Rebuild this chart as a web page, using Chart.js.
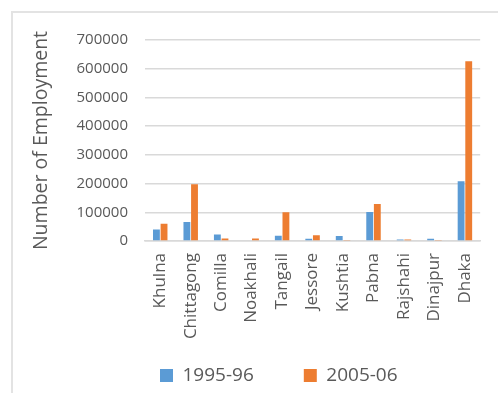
<!DOCTYPE html>
<html>
<head>
<meta charset="utf-8">
<script src="https://cdn.jsdelivr.net/npm/chart.js@4.4.0/dist/chart.umd.min.js"></script>
<style>
  html, body { margin: 0; padding: 0; background: #fff; }
  #wrap { position: relative; width: 498px; height: 393px; overflow: hidden; }
  #cadre { position: absolute; left: 11px; top: 11px; width: 600px; height: 600px; border: 2px solid #e3e3e3; }
  #graph { position: absolute; left: 0; top: 0; }
</style>
</head>
<body>
<div id="wrap">
  <div id="cadre"></div>
  <canvas id="graph" width="498" height="393"></canvas>
</div>
<script>
// ===== DONNÉES =====
const districts = ["Khulna", "Chittagong", "Comilla", "Noakhali", "Tangail", "Jessore",
                   "Kushtia", "Pabna", "Rajshahi", "Dinajpur", "Dhaka"];
const emploi1995 = [40000, 66000, 23000, 0, 18500, 8000, 17000, 101000, 5000, 8000, 208000];
const emploi2005 = [60000, 198000, 9000, 9000, 100000, 20000, 2000, 129000, 5000, 2000, 626000];
const seriesNoms = ["1995-96", "2005-06"];
const yTicks = [0, 100000, 200000, 300000, 400000, 500000, 600000, 700000];

const gris = "#595959";
const police = "'Open Sans', sans-serif";

// place la légende comme dans l'original (plus à droite, un peu plus haut)
const placeLegende = {
    id: "placeLegende",
    afterLayout(chart) {
        const lg = chart.legend;
        if (lg) {
            lg.left += 80;
            lg.right += 80;
            lg.top -= 31;
            lg.bottom = chart.height;
            lg.height = lg.bottom - lg.top;
        }
    }
};

new Chart(document.getElementById("graph"), {
    type: "bar",
    data: {
        labels: districts,
        datasets: [
            { label: seriesNoms[0], data: emploi1995, backgroundColor: "#5B9BD5" },
            { label: seriesNoms[1], data: emploi2005, backgroundColor: "#ED7D31" }
        ]
    },
    options: {
        responsive: false,
        animation: false,
        categoryPercentage: 0.5,
        barPercentage: 0.9,
        layout: {
            padding: { left: 30, right: 15, top: 40, bottom: 0 }
        },
        plugins: {
            tooltip: { enabled: false },
            legend: {
                position: "bottom",
                align: "start",
                maxHeight: 46,
                labels: {
                    boxWidth: 13,
                    boxHeight: 13,
                    padding: 50,
                    color: gris,
                    font: { family: police, size: 19 }
                }
            }
        },
        scales: {
            x: {
                afterFit(scale) { scale.height = 106; },
                grid: { display: false, drawTicks: false },
                border: { color: "#d9d9d9", width: 1.5 },
                ticks: {
                    autoSkip: false,
                    minRotation: 90,
                    maxRotation: 90,
                    padding: 12,
                    color: gris,
                    font: { family: police, size: 17 }
                }
            },
            y: {
                min: 0,
                max: 700000,
                afterFit(scale) { scale.width = 115; },
                afterBuildTicks(scale) { scale.ticks = yTicks.map(v => ({ value: v })); },
                grid: { color: "#d9d9d9", lineWidth: 1.5, drawTicks: false },
                border: { display: false },
                title: {
                    display: true,
                    text: "Number of Employment",
                    color: gris,
                    padding: 0,
                    font: { family: police, size: 19.5 }
                },
                ticks: {
                    padding: 17,
                    color: gris,
                    font: { family: police, size: 15 },
                    callback: (v) => String(v)
                }
            }
        }
    },
    plugins: [placeLegende]
});
</script>
</body>
</html>
